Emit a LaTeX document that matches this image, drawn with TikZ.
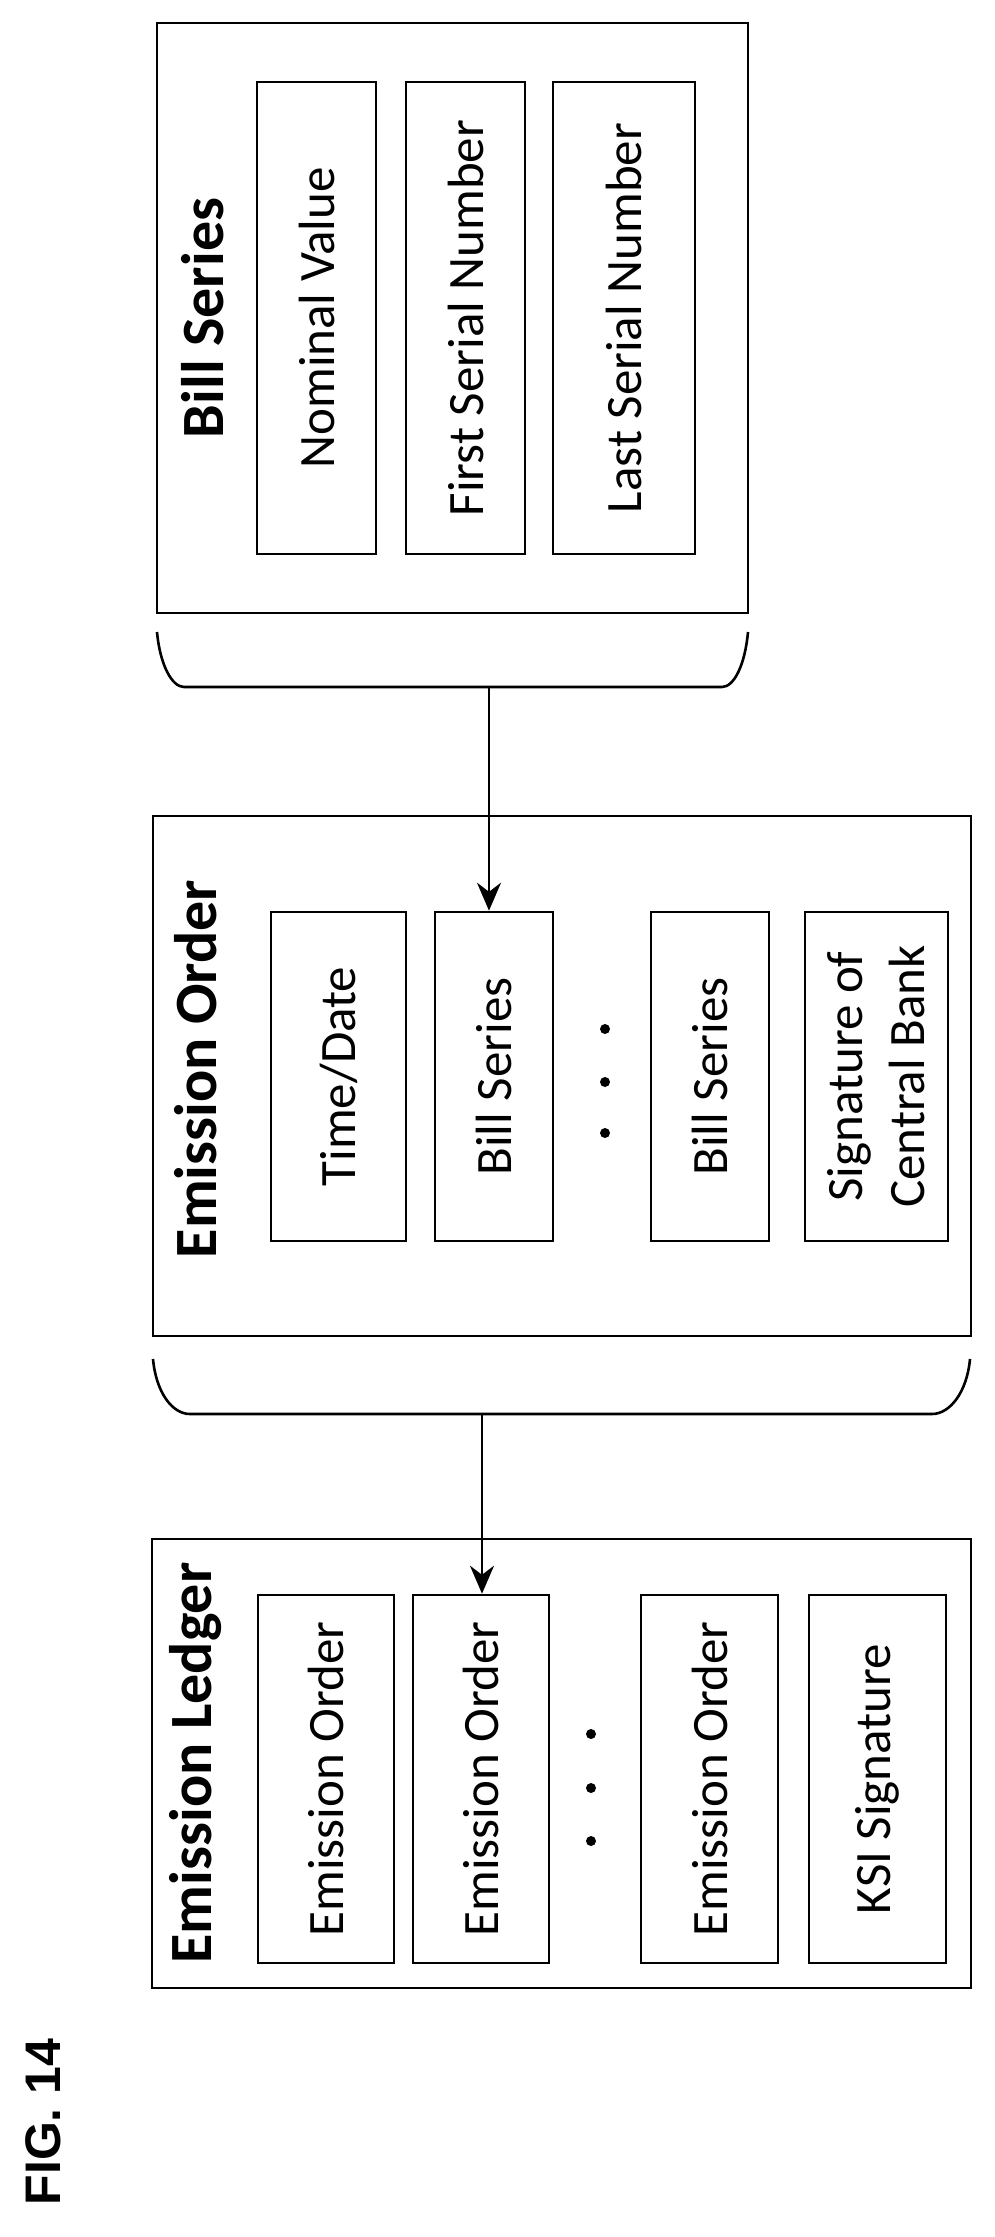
\documentclass[tikz,border=0pt]{standalone}
\usepackage{fontspec}
\setmainfont{Carlito}
\newfontfamily\figfont{Liberation Sans}
\usetikzlibrary{arrows.meta}
\begin{document}
\begin{tikzpicture}[x=1pt,y=-1pt,
  box/.style={draw,line width=2.6pt,rotate=90,inner sep=0pt,font=\fontsize{51}{62}\selectfont,align=center},
  ttl/.style={rotate=90,font=\fontsize{60}{62}\selectfont\bfseries},
  brace/.style={line width=2.6pt},
  arr/.style={line width=2.6pt,-{Stealth[length=28pt,width=24pt]}},
  dot/.style={circle,fill,inner sep=0pt,minimum size=10pt}]
\useasboundingbox (0,0) rectangle (994,2237);
% Bill Series
\node[box,minimum width=590,minimum height=591] (bs) at (452.5,318) {};
\node[ttl] (bst) at (203,318) {Bill Series};
\node[box,minimum width=472,minimum height=119] (nv) at (316.5,318) {Nominal Value};
\node[box,minimum width=472,minimum height=119] (fs) at (465.5,318) {First Serial Number};
\node[box,minimum width=472,minimum height=142] (ls) at (624,318) {Last Serial Number};
\draw[brace] (157,632) .. controls (160,665) and (172,687) .. (184,687) -- (722,687) .. controls (734,687) and (745,665) .. (748,632);
\coordinate (br1) at (489,687);
% Emission Order
\node[box,minimum width=520,minimum height=818] (eo) at (562,1076) {};
\node[ttl] (eot) at (196,1069) {Emission Order};
\node[box,minimum width=329,minimum height=135] (td) at (338.5,1076.5) {Time/Date};
\node[box,minimum width=329,minimum height=118] (bs1) at (494,1076.5) {Bill Series};
\node[box,minimum width=329,minimum height=118] (bs2) at (710,1076.5) {Bill Series};
\node[box,minimum width=329,minimum height=143] (sig) at (876.5,1076.5) {Signature of\\Central Bank};
\node[dot] (d1) at (605,1029) {};
\node[dot] (d2) at (605,1082) {};
\node[dot] (d3) at (605,1133) {};
\draw[arr] (br1) -- (br1 |- bs1.east);
\draw[brace] (153,1359) .. controls (156,1392) and (172,1414) .. (190,1414) -- (932,1414) .. controls (950,1414) and (967,1392) .. (970,1359);
\coordinate (br2) at (482,1414);
% Emission Ledger
\node[box,minimum width=449,minimum height=819] (el) at (561.5,1763.5) {};
\node[ttl] (elt) at (196,1763) {Emission Ledger};
\node[box,minimum width=368,minimum height=136] (e1) at (326,1779) {Emission Order};
\node[box,minimum width=368,minimum height=136] (e2) at (481,1779) {Emission Order};
\node[box,minimum width=368,minimum height=137] (e3) at (709.5,1779) {Emission Order};
\node[box,minimum width=368,minimum height=137] (ksi) at (877.5,1779) {KSI Signature};
\node[dot] (f1) at (591,1734) {};
\node[dot] (f2) at (591,1788) {};
\node[dot] (f3) at (591,1841) {};
\draw[arr] (br2) -- (br2 |- e2.east);
\node[rotate=90,font=\figfont\fontsize{50}{52}\selectfont\bfseries] (fig) at (43,2122) {FIG. 14};
\end{tikzpicture}
\end{document}
